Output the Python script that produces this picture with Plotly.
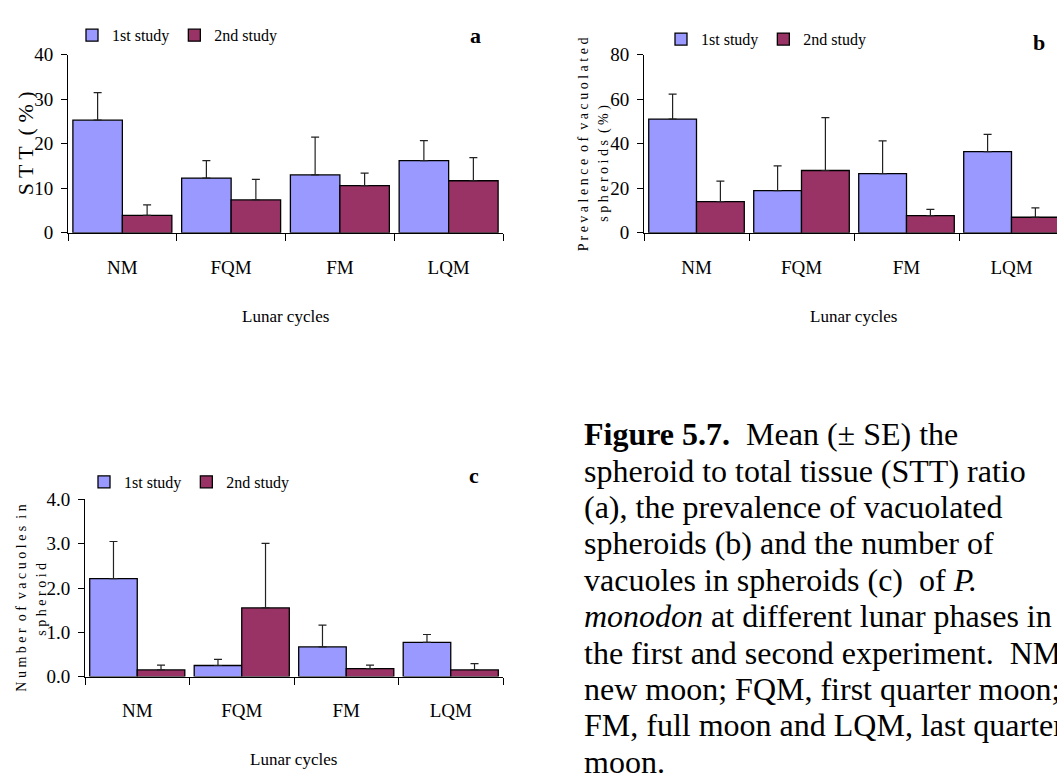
import plotly.graph_objects as go

W, H = 1057, 780

phases = ["NM", "FQM", "FM", "LQM"]
series_names = ["1st study", "2nd study"]
colors = ["#9999FF", "#993366"]

# Panel a: STT (%)
stt_1 = [25.3, 12.3, 13.0, 16.2]
stt_1_se = [6.2, 3.9, 8.5, 4.5]
stt_2 = [3.9, 7.4, 10.6, 11.7]
stt_2_se = [2.4, 4.6, 2.8, 5.2]

# Panel b: prevalence of vacuolated spheroids (%)
prev_1 = [51.1, 19.0, 26.6, 36.5]
prev_1_se = [11.2, 11.1, 14.7, 7.7]
prev_2 = [14.0, 28.0, 7.7, 7.0]
prev_2_se = [9.2, 23.8, 2.8, 4.2]

# Panel c: number of vacuoles in spheroid
vac_1 = [2.21, 0.25, 0.67, 0.77]
vac_1_se = [0.84, 0.14, 0.49, 0.18]
vac_2 = [0.15, 1.55, 0.18, 0.15]
vac_2_se = [0.11, 1.46, 0.08, 0.14]

caption_lines = [
    "<b>Figure 5.7.</b>\u00a0 Mean (± SE) the",
    "spheroid to total tissue (STT) ratio",
    "(a), the prevalence of vacuolated",
    "spheroids (b) and the number of",
    "vacuoles in spheroids (c)\u00a0 of <i>P.</i>",
    "<i>monodon</i> at different lunar phases in",
    "the first and second experiment.\u00a0 NM,",
    "new moon; FQM, first quarter moon;",
    "FM, full moon and LQM, last quarter",
    "moon.",
]

FONT = "Liberation Serif, Times New Roman, serif"


def px(x):
    return x / W


def py(y):
    return 1 - y / H


fig = go.Figure()

panels = [
    ("x", "y", "legend", [stt_1, stt_2], [stt_1_se, stt_2_se]),
    ("x2", "y2", "legend2", [prev_1, prev_2], [prev_1_se, prev_2_se]),
    ("x3", "y3", "legend3", [vac_1, vac_2], [vac_1_se, vac_2_se]),
]

for xa, ya, lg, vals, errs in panels:
    for name, col, v, e in zip(series_names, colors, vals, errs):
        fig.add_trace(go.Bar(
            x=phases, y=v, name=name, xaxis=xa, yaxis=ya, legend=lg,
            marker=dict(color=col, line=dict(color="black", width=1.3)),
            error_y=dict(type="data", symmetric=False, array=e,
                         arrayminus=[0] * len(e), color="#222222",
                         thickness=1.2, width=4),
        ))

axis_common = dict(showline=True, linecolor="black", linewidth=1,
                   showgrid=False, zeroline=False, ticks="outside",
                   tickcolor="black")

xcommon = dict(axis_common, type="category", tickson="boundaries", ticklen=7,
               ticklabelstandoff=17,
               tickfont=dict(family=FONT, size=19, color="black"))
ycommon = dict(axis_common, ticklen=6, ticklabelstandoff=4,
               tickfont=dict(family=FONT, size=19, color="black"))

fig.update_layout(
    width=W, height=H, margin=dict(l=0, r=0, t=0, b=0),
    paper_bgcolor="white", plot_bgcolor="white",
    barmode="group", bargap=0.09, bargroupgap=0,
    font=dict(family=FONT, color="black"),
    xaxis=dict(xcommon, domain=[px(68), px(503)], range=[-0.5, 3.5], anchor="y"),
    yaxis=dict(ycommon, domain=[py(229), py(46)], range=[0, 40], dtick=10, anchor="x"),
    xaxis2=dict(xcommon, domain=[px(644), 1], range=[-0.5, -0.5 + 413 / 105], anchor="y2"),
    yaxis2=dict(ycommon, domain=[py(229), py(46)], range=[0, 80], dtick=20, anchor="x2"),
    xaxis3=dict(xcommon, domain=[px(85), px(503)], range=[-0.5, 3.5], anchor="y3"),
    yaxis3=dict(ycommon, domain=[py(685), py(503)], range=[0, 4], dtick=1,
                tickformat=".1f", anchor="x3"),
)

leg_common = dict(orientation="h", font=dict(family=FONT, size=16, color="black"),
                  bgcolor="rgba(0,0,0,0)", xanchor="left", yanchor="middle",
                  itemwidth=30, tracegroupgap=0)
fig.update_layout(
    legend=dict(leg_common, x=px(72), y=py(26)),
    legend2=dict(leg_common, x=px(661), y=py(30)),
    legend3=dict(leg_common, x=px(84), y=py(485)),
)

ann = []
# axis titles
ann.append(dict(text="S T T\u00a0 ( % )", x=px(25), y=py(137), textangle=-90,
                font=dict(size=22)))
ann.append(dict(text="P r e v a l e n c e\u00a0 o f\u00a0 v a c u o l a t e d",
                x=px(583), y=py(138), textangle=-90, font=dict(size=14)))
ann.append(dict(text="s p h e r o i d s\u00a0 ( % )",
                x=px(604), y=py(158), textangle=-90, font=dict(size=14)))
ann.append(dict(text="N u m b e r\u00a0 o f\u00a0 v a c u o l e s\u00a0 i n",
                x=px(22), y=py(605), textangle=-90, font=dict(size=14)))
ann.append(dict(text="s p h e r o i d",
                x=px(42), y=py(606), textangle=-90, font=dict(size=14)))
# x titles
ann.append(dict(text="Lunar cycles", x=px(285), y=py(315), font=dict(size=17)))
ann.append(dict(text="Lunar cycles", x=px(853), y=py(315), font=dict(size=17)))
ann.append(dict(text="Lunar cycles", x=px(293), y=py(770), font=dict(size=17)))
# panel letters
ann.append(dict(text="<b>a</b>", x=px(475), y=py(26), font=dict(size=22)))
ann.append(dict(text="<b>b</b>", x=px(1039), y=py(33), font=dict(size=22)))
ann.append(dict(text="<b>c</b>", x=px(474), y=py(478), font=dict(size=22)))
# caption (runs off the right edge, as in the reference)
for i, line in enumerate(caption_lines):
    ann.append(dict(text=line, x=px(582), y=py(436 + 37.4 * i), xanchor="left",
                    font=dict(size=32)))

for a in ann:
    a.setdefault("xanchor", "center")
    a.update(xref="paper", yref="paper", showarrow=False, yanchor="middle")
    a["font"] = dict(family=FONT, color="black", **a["font"])

fig.update_layout(annotations=ann)

fig.write_html("out.html")
